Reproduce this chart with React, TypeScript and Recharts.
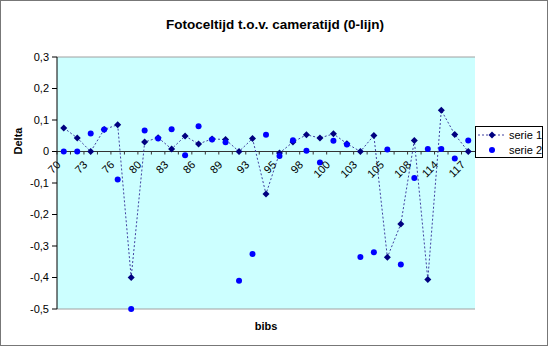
import React from "react"
import {
  ComposedChart,
  Line,
  XAxis,
  YAxis,
  CartesianGrid,
  ReferenceLine,
} from "recharts"

// bib numbers (only every other one is labelled on the axis)
const bibs = [
  "70", "72", "73", "74", "76", "78", "80", "81", "83", "85", "86",
  "87", "89", "91", "93", "94", "95", "97", "98", "99", "100", "101",
  "103", "104", "105", "106", "108", "110", "114", "116", "117",
]

const serie1 = [
  0.075, 0.043, 0.0, 0.07, 0.085, -0.4, 0.03, 0.044, 0.008, 0.049, 0.024,
  0.04, 0.038, 0.0, 0.041, -0.135, -0.005, 0.03, 0.053, 0.043, 0.056, 0.025,
  0.0, 0.051, -0.336, -0.23, 0.035, -0.406, 0.131, 0.054, 0.0,
]

const serie2 = [
  0.0, 0.0, 0.057, 0.07, -0.089, -0.5, 0.067, 0.041, 0.071, -0.012, 0.08,
  0.038, 0.029, -0.41, -0.325, 0.053, -0.014, 0.036, 0.002, -0.035, 0.034, 0.022,
  -0.335, -0.32, 0.006, -0.359, -0.084, 0.008, 0.008, -0.022, 0.035,
]

const yTicks = [-0.5, -0.4, -0.3, -0.2, -0.1, 0, 0.1, 0.2, 0.3]
const innerGrid = [-0.4, -0.3, -0.2, -0.1, 0.1, 0.2]

const data = bibs.map((bib, i) => ({ bib, s1: serie1[i], s2: serie2[i] }))

const FONT = "'Liberation Sans', Arial, sans-serif"
const W = 550
const H = 347
const TOP = 57
const BOTTOM = 309
const LEFT = 57
const RIGHT = 475
const Y_MIN = -0.5
const Y_MAX = 0.3
const zeroY = TOP + ((BOTTOM - TOP) * Y_MAX) / (Y_MAX - Y_MIN)
const band = (RIGHT - LEFT) / bibs.length

const fmt = (v: number) => (v === 0 ? "0" : v.toFixed(1).replace(".", ","))

function Diamond({ cx, cy, fill = "#000080", r = 3.5 }: any) {
  if (cx == null || cy == null) return null
  return (
    <path
      d={`M${cx},${cy - r}L${cx + r},${cy}L${cx},${cy + r}L${cx - r},${cy}Z`}
      fill={fill}
    />
  )
}

// category labels sit on the zero line, not at the bottom of the plot
function BibTick(props: any) {
  const { x, index, payload } = props
  const tx = x - 2.5
  const ty = zeroY + 14
  return (
    <g>
      <line
        x1={x - band / 2}
        x2={x - band / 2}
        y1={zeroY}
        y2={zeroY + 3}
        stroke="#333"
      />
      {index % 2 === 0 && (
        <text
          x={tx}
          y={ty}
          textAnchor="end"
          fontSize={11}
          fontFamily={FONT}
          fill="#000"
          transform={`rotate(-45 ${tx} ${ty})`}
        >
          {payload.value}
        </text>
      )}
    </g>
  )
}

function LegendBox() {
  return (
    <div
      style={{
        position: "absolute",
        left: 475,
        top: 126,
        width: 68,
        height: 32,
        border: "1px solid #000",
        background: "#fff",
        boxSizing: "border-box",
      }}
    >
      <svg width={66} height={30} style={{ position: "absolute", left: 0, top: 0 }}>
        <line x1={2} x2={30} y1={8} y2={8} stroke="#4040a0" strokeDasharray="2 2" />
        <Diamond cx={16} cy={8} />
        <circle cx={16} cy={23} r={3} fill="#0000ff" />
        <text x={33} y={12} fontSize={11} fontFamily={FONT}>serie 1</text>
        <text x={33} y={27} fontSize={11} fontFamily={FONT}>serie 2</text>
      </svg>
    </div>
  )
}

export default function App() {
  return (
    <div style={{ position: "absolute", left: 0, top: 0, width: W, height: H, background: "#fff" }}>
      <div
        style={{
          position: "absolute",
          left: LEFT,
          top: TOP,
          width: RIGHT - LEFT,
          height: BOTTOM - TOP,
          background: "#ccffff",
        }}
      />
      <div style={{ position: "absolute", left: 0, top: 0 }}>
        <ComposedChart
          width={W}
          height={H}
          data={data}
          margin={{ top: TOP, right: W - RIGHT, bottom: H - BOTTOM - 1, left: LEFT - 45 }}
        >
          <CartesianGrid
            vertical={false}
            horizontalValues={innerGrid}
            stroke="#4a4a4a"
            fill="none"
          />
          <XAxis
            dataKey="bib"
            scale="band"
            height={1}
            interval={0}
            axisLine={false}
            tickLine={false}
            tick={BibTick}
          />
          <YAxis
            yAxisId="l"
            domain={[Y_MIN, Y_MAX]}
            ticks={yTicks}
            tickFormatter={fmt}
            width={45}
            tickSize={5}
            tickMargin={3}
            axisLine={{ stroke: "#000" }}
            tickLine={{ stroke: "#000" }}
            tick={{ fill: "#000", fontSize: 11, fontFamily: FONT }}
            interval={0}
          />
          <YAxis
            yAxisId="r"
            orientation="right"
            domain={[Y_MIN, Y_MAX]}
            width={0}
            tick={false}
            tickLine={false}
            axisLine={{ stroke: "#a0a0a0" }}
          />
          <ReferenceLine yAxisId="l" y={Y_MAX} stroke="#a0a0a0" />
          <ReferenceLine yAxisId="l" y={Y_MIN} stroke="#a0a0a0" />
          <ReferenceLine yAxisId="l" y={0} stroke="#333" />
          <Line
            yAxisId="l"
            dataKey="s1"
            name="serie 1"
            stroke="#4040a0"
            strokeWidth={1}
            strokeDasharray="2 2"
            isAnimationActive={false}
            dot={(p: any) => <Diamond key={`d${p.index}`} cx={p.cx} cy={p.cy} />}
            activeDot={false}
          />
          <Line
            yAxisId="l"
            dataKey="s2"
            name="serie 2"
            stroke="none"
            isAnimationActive={false}
            dot={(p: any) => (
              <circle key={`c${p.index}`} cx={p.cx} cy={p.cy} r={3} fill="#0000ff" />
            )}
            activeDot={false}
          />
          <text
            x={275}
            y={29}
            textAnchor="middle"
            fontSize={13.5}
            fontWeight="bold"
            fontFamily={FONT}
          >
            Fotoceltijd t.o.v. cameratijd (0-lijn)
          </text>
          <text
            x={266}
            y={330}
            textAnchor="middle"
            fontSize={11}
            fontWeight="bold"
            fontFamily={FONT}
          >
            bibs
          </text>
          <text
            x={22}
            y={141}
            textAnchor="middle"
            fontSize={11}
            fontWeight="bold"
            fontFamily={FONT}
            transform="rotate(-90 22 141)"
          >
            Delta
          </text>
        </ComposedChart>
      </div>
      <LegendBox />
      <div
        style={{
          position: "absolute",
          left: 0,
          top: 0,
          width: 548,
          height: 346,
          border: "1px solid #777",
          boxSizing: "border-box",
          pointerEvents: "none",
        }}
      />
    </div>
  )
}
